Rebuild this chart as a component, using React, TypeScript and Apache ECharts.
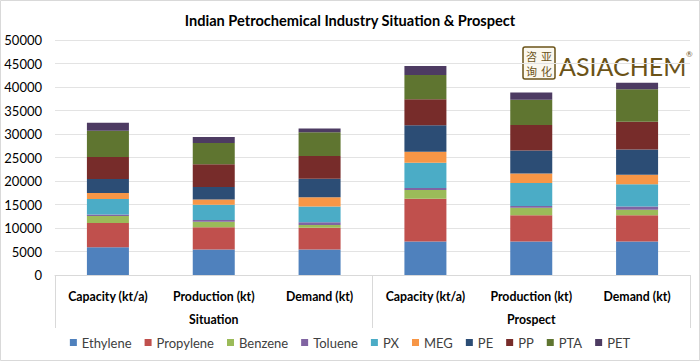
import React, { useEffect, useRef } from "react";
import * as echarts from "echarts";

const categories = ["Capacity (kt/a)", "Production (kt)", "Demand (kt)", "Capacity (kt/a)", "Production (kt)", "Demand (kt)"];
const groups = ["Situation", "Prospect"];
const seriesNames = ["Ethylene", "Propylene", "Benzene", "Toluene", "PX", "MEG", "PE", "PP", "PTA", "PET"];
const colors = ["#4F81BD", "#C0504D", "#9BBB59", "#8064A2", "#4BACC6", "#F79646", "#2C4D75", "#772C2A", "#5F7530", "#4D3B62"];

const ethylene = [5900, 5450, 5450, 7150, 7150, 7150];
const propylene = [5150, 4700, 4600, 9100, 5550, 5550];
const benzene = [1500, 1200, 600, 1850, 1600, 1200];
const toluene = [300, 350, 550, 400, 400, 650];
const px = [3300, 3250, 3350, 5400, 4850, 4750];
const meg = [1300, 1100, 2000, 2350, 2050, 2050];
const pe = [2950, 2700, 3950, 5600, 4900, 5350];
const pp = [4700, 4800, 4800, 5550, 5400, 5900];
const pta = [5600, 4550, 5050, 5150, 5400, 6900];
const pet = [1700, 1250, 800, 1900, 1550, 1400];

const values = [ethylene, propylene, benzene, toluene, px, meg, pe, pp, pta, pet];
const yTicks = { min: 0, max: 50000, interval: 5000 };
const sealChars = ["咨", "亚", "询", "化"];

const FONT = "Lato, 'Noto Sans', sans-serif";
const BROWN = "#6b5318";

export default function App() {
  const ref = useRef<HTMLDivElement>(null);
  useEffect(() => {
    document.body.style.margin = "0";
    if (!ref.current) return;
    const chart = echarts.init(ref.current, undefined, { renderer: "svg" });
    const sealTexts = sealChars.map((ch, i) => ({
      type: "text",
      x: 531.5 + (i % 2) * 15,
      y: 55.5 + Math.floor(i / 2) * 15,
      style: {
        text: ch,
        fontSize: 11,
        fontFamily: "'Noto Sans CJK SC'",
        fill: BROWN,
        align: "center",
        verticalAlign: "middle",
      },
    }));
    chart.setOption({
      animation: false,
      backgroundColor: "#ffffff",
      textStyle: { fontFamily: FONT },
      title: {
        text: "Indian Petrochemical Industry Situation & Prospect",
        left: "center",
        top: 8,
        textStyle: { fontFamily: FONT, fontSize: 14.6, fontWeight: "bold", color: "#000" },
      },
      grid: { left: 55, right: 10, top: 40, bottom: 86, containLabel: false },
      legend: {
        data: seriesNames,
        bottom: 7,
        left: "center",
        icon: "rect",
        itemWidth: 7,
        itemHeight: 7,
        itemGap: 13,
        textStyle: { fontFamily: FONT, fontSize: 13, color: "#404040" },
      },
      xAxis: [
        {
          type: "category",
          data: categories,
          position: "bottom",
          axisLine: { show: true, lineStyle: { color: "#d9d9d9" } },
          axisTick: { show: false },
          axisLabel: { margin: 15, fontFamily: FONT, fontSize: 12.3, fontWeight: "bold", color: "#000", interval: 0 },
        },
        {
          type: "category",
          data: groups,
          position: "bottom",
          axisLine: { show: false },
          axisTick: { show: true, length: 53, lineStyle: { color: "#d9d9d9" } },
          axisLabel: { margin: 38, fontFamily: FONT, fontSize: 12.3, fontWeight: "bold", color: "#000" },
        },
      ],
      yAxis: {
        type: "value",
        min: yTicks.min,
        max: yTicks.max,
        interval: yTicks.interval,
        axisLine: { show: false },
        axisTick: { show: false },
        splitLine: { lineStyle: { color: "#e3e3e3" } },
        axisLabel: { margin: 13, fontFamily: FONT, fontSize: 13, color: "#000", formatter: (v: number) => String(v) },
      },
      series: seriesNames.map((name, i) => ({
        name,
        type: "bar",
        stack: "total",
        xAxisIndex: 0,
        barWidth: 42,
        data: values[i],
        itemStyle: { color: colors[i] },
      })),
      graphic: [
        {
          type: "rect",
          shape: { x: 0.5, y: 0.5, width: 699, height: 360 },
          style: { fill: "none", stroke: "#d9d9d9", lineWidth: 1 },
          silent: true,
        },
        {
          type: "rect",
          shape: { x: 523, y: 47, width: 32, height: 32, r: 2 },
          style: { fill: "#fbf8ef", stroke: BROWN, lineWidth: 1.5 },
        },
        ...sealTexts,
        {
          type: "text",
          left: 559,
          top: 53,
          style: { text: "ASIACHEM", fontSize: 25, fontFamily: FONT, fill: BROWN },
        },
        {
          type: "text",
          left: 686,
          top: 50,
          style: { text: "®", fontSize: 8, fontFamily: FONT, fill: BROWN },
        },
      ],
    });
    return () => chart.dispose();
  }, []);
  return <div ref={ref} style={{ width: 700, height: 361 }} />;
}
